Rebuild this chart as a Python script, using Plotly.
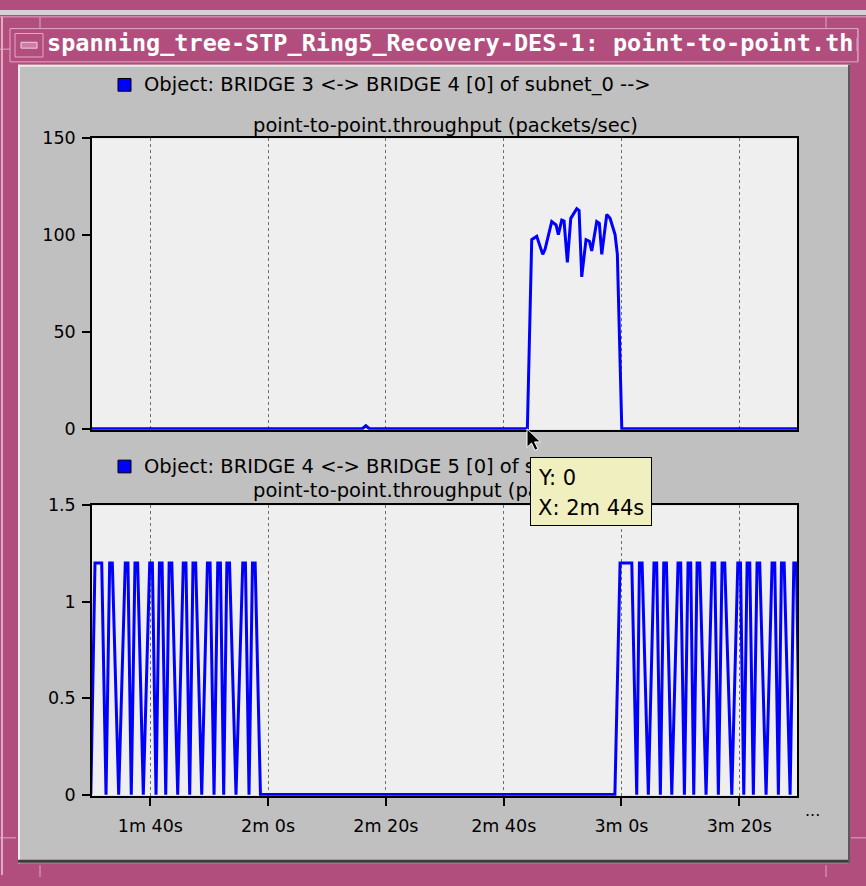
import plotly.graph_objects as go

W, H = 866, 886

# ---- data -------------------------------------------------------------
WINDOW_TITLE = "spanning_tree-STP_Ring5_Recovery-DES-1: point-to-point.throughput"
LEGEND_TOP = "Object: BRIDGE 3 &lt;-&gt; BRIDGE 4 [0] of subnet_0 --&gt;"
LEGEND_BOTTOM = "Object: BRIDGE 4 &lt;-&gt; BRIDGE 5 [0] of subnet_0 --&gt;"
SUBTITLE = "point-to-point.throughput (packets/sec)"

# time in seconds, throughput in packets/sec
top_t = [90.0, 136.0, 136.6, 137.2, 164.02, 164.76, 165.61, 166.63, 167.02,
         168.16, 168.89, 169.28, 169.86, 170.25, 170.81, 171.39, 172.41,
         172.80, 173.25, 173.98, 174.55, 174.95, 175.80, 176.24, 176.65,
         177.50, 178.06, 178.91, 179.30, 180.05, 210.0]
top_v = [0, 0, 1.5, 0, 0, 97.6, 99.3, 90.0, 92.6,
         106.9, 105.2, 100.2, 107.7, 107.2, 85.9, 108.6, 113.6,
         112.7, 78.4, 97.6, 96.8, 91.8, 106.9, 106.0, 90.0,
         110.6, 108.6, 100.2, 90.0, 0, 0]

bot_t = [89.9, 90.61, 91.75, 92.48,
         93.10, 93.55, 94.63, 95.75, 96.20, 96.77, 97.40, 97.85, 98.81,
         99.90, 100.35, 100.97, 101.55, 102.00, 102.62, 103.20, 103.65, 104.65,
         105.60, 106.05, 106.69, 107.25, 107.70, 108.73, 109.70, 110.15, 110.82,
         111.45, 111.90, 112.46, 113.00, 113.45, 114.55, 115.70, 116.15, 116.76,
         117.35, 117.80, 118.70,
         178.88, 179.76, 181.75, 182.59,
         183.05, 183.50, 184.56, 185.52, 185.97, 186.60, 187.18, 187.63, 188.54,
         189.60, 190.05, 190.68, 191.30, 191.75, 192.27, 192.84, 193.29, 194.36,
         195.38, 195.83, 196.45, 197.08, 197.53, 198.73, 199.75, 200.20, 200.76,
         201.33, 201.78, 202.39, 203.02, 203.47, 204.55, 205.57, 206.02, 206.64,
         207.17, 207.62, 208.63, 209.26, 209.71, 210.3]
bot_v = [0, 1.2, 1.2, 0,
         1.2, 1.2, 0, 1.2, 1.2, 0, 1.2, 1.2, 0,
         1.2, 1.2, 0, 1.2, 1.2, 0, 1.2, 1.2, 0,
         1.2, 1.2, 0, 1.2, 1.2, 0, 1.2, 1.2, 0,
         1.2, 1.2, 0, 1.2, 1.2, 0, 1.2, 1.2, 0,
         1.2, 1.2, 0,
         0, 1.2, 1.2, 0,
         1.2, 1.2, 0, 1.2, 1.2, 0, 1.2, 1.2, 0,
         1.2, 1.2, 0, 1.2, 1.2, 0, 1.2, 1.2, 0,
         1.2, 1.2, 0, 1.2, 1.2, 0, 1.2, 1.2, 0,
         1.2, 1.2, 0, 1.2, 1.2, 0, 1.2, 1.2, 0,
         1.2, 1.2, 0, 1.2, 1.2, 0]

x_tickvals = [100, 120, 140, 160, 180, 200]
x_ticktext = ["1m 40s", "2m 0s", "2m 20s", "2m 40s", "3m 0s", "3m 20s"]
top_yticks = [0, 50, 100, 150]
bot_yticks = [0, 0.5, 1, 1.5]
bot_yticktext = ["0", "0.5", "1", "1.5"]

HOVER_Y = "Y: 0"
HOVER_X = "X: 2m 44s"

# ---- styling ----------------------------------------------------------
FRAME = "#b24e7e"
FRAME_LIGHT = "#e3a8c4"
PANEL = "#c0c0c0"
PLOT_BG = "#efefef"
BLUE = "#0000ff"
FONT = "DejaVu Sans"


def px(x):
    return x / W


def py(y):
    return 1 - y / H


shapes = []


def rect(x0, y0, x1, y1, fill, line=None, lw=0, layer="below"):
    shapes.append(dict(type="rect", xref="paper", yref="paper",
                       x0=px(x0), x1=px(x1), y0=py(y1), y1=py(y0),
                       fillcolor=fill, layer=layer,
                       line=dict(color=line or fill, width=lw)))


def seg(x0, y0, x1, y1, color, w=1, layer="below"):
    shapes.append(dict(type="line", xref="paper", yref="paper",
                       x0=px(x0), x1=px(x1), y0=py(y0), y1=py(y1),
                       layer=layer, line=dict(color=color, width=w)))


# window frame
rect(0, 0, 866, 5, "#d6d0d3")
seg(2, 7, 2, 884, FRAME_LIGHT, 2)
seg(0, 7, 866, 7, FRAME_LIGHT, 1)
for xx in (40, 826):
    seg(xx, 7, xx, 18, FRAME_LIGHT, 1)
    seg(xx, 874, xx, 886, FRAME_LIGHT, 1)
for yy in (40, 846):
    seg(0, yy, 16, yy, FRAME_LIGHT, 1)
    seg(851, yy, 866, yy, FRAME_LIGHT, 1)

# title bar and its button
rect(10, 19, 858, 53, FRAME, FRAME_LIGHT, 1)
rect(15, 24, 43, 48, FRAME, FRAME_LIGHT, 1)
rect(21, 33, 37, 39, "#cf7ca2", "#f2cde0", 1)

# content panel
rect(18, 56, 850, 872, PANEL)
seg(18, 57, 850, 57, "#ececec", 2)
seg(19, 56, 19, 872, "#ececec", 2)
seg(18, 870, 850, 870, "#3c3c3c", 3)
seg(849, 56, 849, 872, "#5a5a5a", 2)

# plot backgrounds
rect(92, 131, 797, 429, PLOT_BG)
rect(92, 506, 797, 803, PLOT_BG)

# legend swatches
rect(118, 70, 131, 83, BLUE, "#000000", 1)
rect(118, 460, 131, 473, BLUE, "#000000", 1)

# right end of the title bar, drawn over the overflowing title text
rect(858.5, 17, 866, 55, FRAME, layer="above")
seg(858, 19, 858, 53, FRAME_LIGHT, 1, layer="above")

# mouse pointer
cx, cy = 527, 428
ptr = [(0, 0), (0, 19), (4.5, 14.5), (8, 22), (11, 20.6), (7.6, 13.4), (13.5, 13.4)]
path = "M " + " L ".join(f"{px(cx + a)},{py(cy + b)}" for a, b in ptr) + " Z"
shapes.append(dict(type="path", xref="paper", yref="paper", path=path,
                   fillcolor="#000000", layer="above",
                   line=dict(color="#ffffff", width=1)))

annotations = []


def label(text, x, y, size=19.5, xanchor="left", color="#000000", family=FONT):
    annotations.append(dict(text=text, x=px(x), y=py(y), xref="paper", yref="paper",
                            xanchor=xanchor, yanchor="middle", showarrow=False,
                            font=dict(family=family, size=size, color=color)))


label(LEGEND_TOP, 142, 76)
label(SUBTITLE, 445, 118, xanchor="center")
label(LEGEND_BOTTOM, 142, 466)
label(SUBTITLE, 445, 491, xanchor="center")
label("...", 812, 818, size=16, xanchor="center")

# hover tooltip box drawn over the lower legend
annotations.append(dict(text=" ", x=px(530), y=py(457), xref="paper", yref="paper",
                        xanchor="left", yanchor="top", showarrow=False,
                        width=120, height=67, bgcolor="#f0efbf",
                        bordercolor="#000000", borderwidth=1, borderpad=0,
                        font=dict(size=4)))
label(HOVER_Y, 536, 478, size=21)
label(HOVER_X, 536, 509, size=21)

tick_font = dict(family=FONT, size=17.5, color="#000000")

fig = go.Figure()
fig.add_trace(go.Scatter(x=top_t, y=top_v, mode="lines", xaxis="x", yaxis="y",
                         line=dict(color=BLUE, width=3), hoverinfo="skip",
                         showlegend=False))
fig.add_trace(go.Scatter(x=bot_t, y=bot_v, mode="lines", xaxis="x2", yaxis="y2",
                         line=dict(color=BLUE, width=3), hoverinfo="skip",
                         showlegend=False))
fig.add_trace(go.Scatter(x=[0], y=[0.5], mode="text", xaxis="x3", yaxis="y3",
                         text=[WINDOW_TITLE], textposition="middle right",
                         textfont=dict(family="DejaVu Sans Mono", size=23.5,
                                       color="#ffffff", weight="bold"),
                         cliponaxis=True, hoverinfo="skip", showlegend=False))

x_range = [90.1, 209.8]
common_x = dict(range=x_range, tickmode="array", tickvals=x_tickvals,
                showgrid=True, gridcolor="#6e6e6e", griddash="dot", gridwidth=1,
                zeroline=False, showline=True, mirror=True, linecolor="#000000",
                linewidth=1.5, tickfont=tick_font)
common_y = dict(showgrid=False, zeroline=False, showline=True, mirror=True,
                linecolor="#000000", linewidth=1.5, ticks="outside", ticklen=8,
                tickwidth=1.5, tickcolor="#000000", tickfont=tick_font,
                tickmode="array", ticklabelstandoff=3)

fig.update_layout(
    width=W, height=H,
    margin=dict(l=0, r=0, t=0, b=0),
    paper_bgcolor=FRAME,
    plot_bgcolor="rgba(0,0,0,0)",
    showlegend=False,
    xaxis=dict(common_x, domain=[px(92), px(797)], anchor="y",
               showticklabels=False, ticks=""),
    yaxis=dict(common_y, domain=[py(429), py(131)], anchor="x",
               range=[-0.6, 150], tickvals=top_yticks),
    xaxis2=dict(common_x, domain=[px(92), px(797)], anchor="y2",
                ticktext=x_ticktext, ticks="outside", ticklen=8, tickwidth=1.5,
                tickcolor="#000000", ticklabelstandoff=5),
    yaxis2=dict(common_y, domain=[py(803), py(506)], anchor="x2",
                range=[-0.006, 1.5], tickvals=bot_yticks, ticktext=bot_yticktext),
    xaxis3=dict(domain=[px(47), px(857)], anchor="y3", range=[0, 1],
                visible=False, fixedrange=True),
    yaxis3=dict(domain=[py(52), py(20)], anchor="x3", range=[0, 1],
                visible=False, fixedrange=True),
    shapes=shapes,
    annotations=annotations,
)

fig.write_html("out.html")
